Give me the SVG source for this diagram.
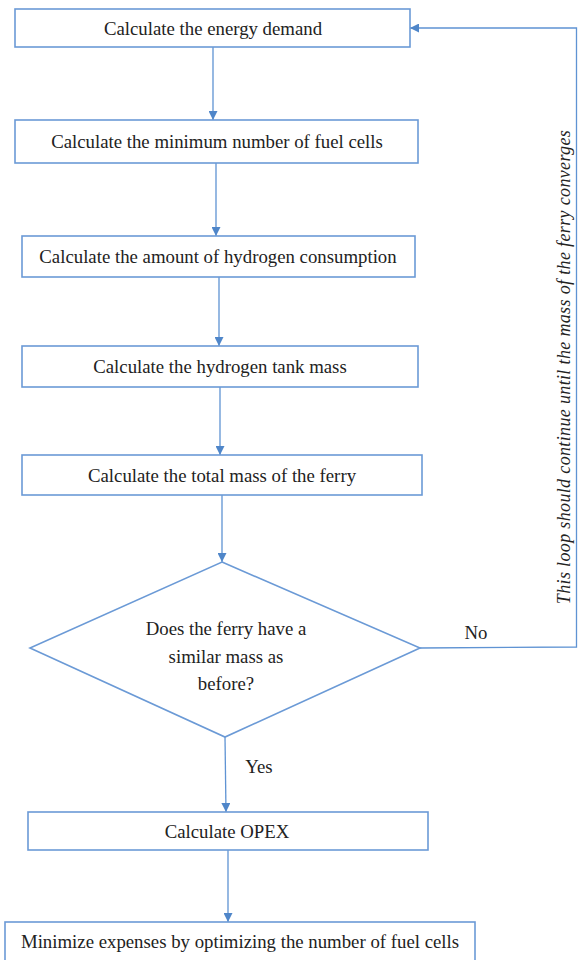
<svg xmlns="http://www.w3.org/2000/svg" width="578" height="960" viewBox="0 0 578 960">
<style>
.box{fill:#fff;stroke:#6b9ad6;stroke-width:1.6}
.t{font-family:"Liberation Serif","Times New Roman",serif;font-size:18.8px;fill:#222;text-anchor:middle;dominant-baseline:central}
.c{fill:none;stroke:#5f93d3;stroke-width:1.3}
.note{font-family:"Liberation Serif","Times New Roman",serif;font-size:18px;letter-spacing:0.35px;font-style:italic;fill:#222;text-anchor:middle;dominant-baseline:central}
</style>
<defs>
<marker id="ah" viewBox="0 0 10 10" refX="10" refY="5" markerWidth="9" markerHeight="9" markerUnits="userSpaceOnUse" orient="auto">
<path d="M0,0 L10,5 L0,10 z" fill="#4f86c9"/>
</marker>
</defs>
<rect width="578" height="960" fill="#fff"/>
<g id="connectors">
<line class="c" x1="213" y1="47" x2="213" y2="120" marker-end="url(#ah)"/>
<line class="c" x1="216" y1="163" x2="216" y2="236" marker-end="url(#ah)"/>
<line class="c" x1="219" y1="277" x2="219" y2="346" marker-end="url(#ah)"/>
<line class="c" x1="220" y1="387" x2="220" y2="455" marker-end="url(#ah)"/>
<line class="c" x1="222" y1="495" x2="222" y2="562" marker-end="url(#ah)"/>
<line class="c" x1="225" y1="737" x2="226" y2="812" marker-end="url(#ah)"/>
<line class="c" x1="228" y1="850" x2="228" y2="922" marker-end="url(#ah)"/>
<polyline class="c" points="420,648 576.5,647 576.5,28 410,28" marker-end="url(#ah)"/>
<text class="t" x="476" y="632">No</text>
<text class="t" x="259" y="766">Yes</text>
<text class="note" transform="translate(564,367) rotate(-90)">This loop should continue until the mass of the ferry converges</text>
</g>
<g id="n1"><rect class="box" x="15" y="9" width="395" height="38"/><text class="t" x="213" y="28">Calculate the energy demand</text></g>
<g id="n2"><rect class="box" x="15" y="120" width="403" height="43"/><text class="t" x="217" y="141">Calculate the minimum number of fuel cells</text></g>
<g id="n3"><rect class="box" x="22" y="236" width="393" height="41"/><text class="t" x="218" y="256">Calculate the amount of hydrogen consumption</text></g>
<g id="n4"><rect class="box" x="22" y="346" width="396" height="41"/><text class="t" x="220" y="366">Calculate the hydrogen tank mass</text></g>
<g id="n5"><rect class="box" x="22" y="455" width="400" height="40"/><text class="t" x="222" y="475">Calculate the total mass of the ferry</text></g>
<g id="n6"><polygon class="box" points="222,562 420,648 225,737 30,648"/>
<text class="t" x="226" y="628">Does the ferry have a</text>
<text class="t" x="226" y="656">similar mass as</text>
<text class="t" x="226" y="683">before?</text></g>
<g id="n7"><rect class="box" x="28" y="812" width="400" height="38"/><text class="t" x="227" y="831">Calculate OPEX</text></g>
<g id="n8"><rect class="box" x="5" y="922" width="470" height="40"/><text class="t" x="240" y="941">Minimize expenses by optimizing the number of fuel cells</text></g>
</svg>
